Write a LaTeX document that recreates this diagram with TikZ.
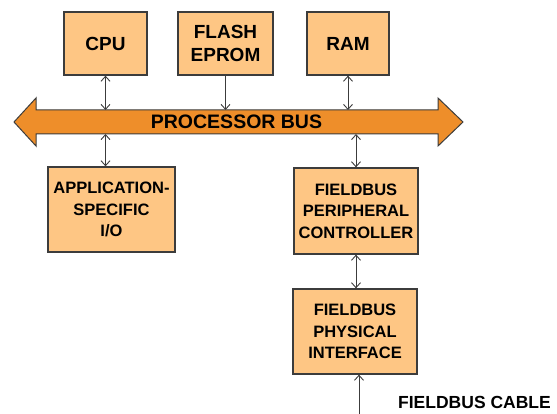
\documentclass[tikz,border=0pt]{standalone}
\usepackage{fontspec}
\setmainfont{Liberation Sans}
\usepackage{tikz}
\usetikzlibrary{arrows.meta}

\definecolor{boxfill}{RGB}{254,198,132}
\definecolor{busfill}{RGB}{238,142,42}
\definecolor{edge}{RGB}{60,60,60}

\tikzset{
    unit/.style={draw=edge, line width=1.3pt, fill=boxfill, align=center, inner sep=0pt,
        font=\bfseries\fontsize{19}{23}\selectfont},
    ionode/.style={unit, font=\bfseries\fontsize{16.5}{21.5}\selectfont},
    link/.style={draw=edge, line width=0.9pt, -{Straight Barb[length=5pt,width=9pt]}},
    bilink/.style={link, {Straight Barb[length=5pt,width=9pt]}-{Straight Barb[length=5pt,width=9pt]}}
}

\begin{document}
\begin{tikzpicture}[x=1pt,y=-1pt]
        \useasboundingbox (0,0) rectangle (557,414);
        % memory and cpu
        \node [unit, minimum width=83pt, minimum height=63pt] (cpu) at (105.5,43.5) {CPU};
        \node [unit, minimum width=95pt, minimum height=63pt] (flash) at (225.5,43.5) {FLASH\\EPROM};
        \node [unit, minimum width=82pt, minimum height=63pt] (ram) at (348,43.5) {RAM};
        % the bus
        \draw [draw=edge, line width=1pt, fill=busfill] (14,122) -- (36,98) -- (36,110) -- (438,110) -- (438,98) -- (463,122)
            -- (438,146) -- (438,134) -- (36,134) -- (36,146) -- cycle;
        \node [font=\bfseries\fontsize{19.5}{23}\selectfont] (bus) at (236.5,122) {PROCESSOR BUS};
        \coordinate (bustop) at (0,110);
        \coordinate (busbot) at (0,134);
        % peripherals
        \node [ionode, minimum width=127pt, minimum height=85pt] (app) at (111.5,209.5) {APPLICATION-\\SPECIFIC\\I/O};
        \node [ionode, minimum width=124pt, minimum height=86pt] (fpc) at (356,211) {FIELDBUS\\PERIPHERAL\\CONTROLLER};
        \node [ionode, minimum width=124pt, minimum height=85pt] (fpi) at (355,331.5) {FIELDBUS\\PHYSICAL\\INTERFACE};
        \node [font=\bfseries\fontsize{17.5}{21}\selectfont] (cable) at (474.5,402) {FIELDBUS CABLE};
        \coordinate (cableend) at (359,414);
        % connections
        \draw [bilink] (cpu.south) -- (cpu.south |- bustop);
        \draw [link] (flash.south) -- (flash.south |- bustop);
        \draw [bilink] (ram.south) -- (ram.south |- bustop);
        \draw [bilink] (cpu.south |- busbot) -- (cpu.south |- app.north);
        \draw [bilink] (fpc.north |- busbot) -- (fpc.north);
        \draw [bilink] (fpc.south) -- (fpc.south |- fpi.north);
        \draw [link] (cableend) -- (cableend |- fpi.south);
    \end{tikzpicture}
\end{document}
